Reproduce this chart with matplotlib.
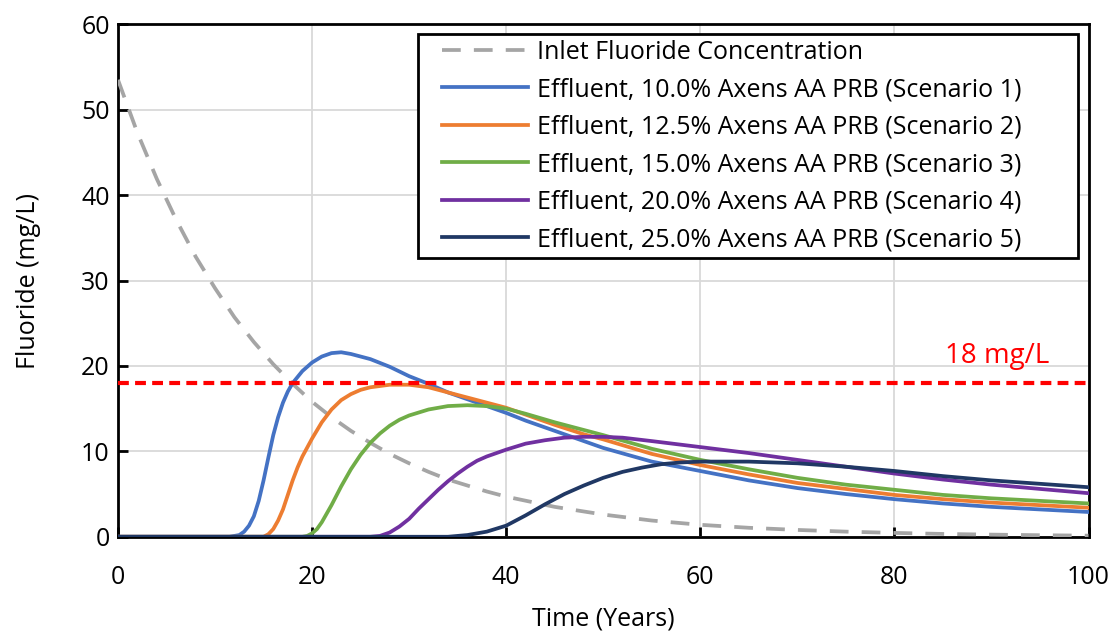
import matplotlib
matplotlib.use("Agg")
import matplotlib.pyplot as plt
from matplotlib.patches import Rectangle

plt.rcParams['font.family'] = ['Open Sans', 'DejaVu Sans']

# Inlet fluoride concentration
inlet_x = [0, 2, 4, 6, 8, 10, 12, 14, 16, 18, 20, 22, 24, 26, 28, 30, 32, 34, 36, 38, 40,
           45, 50, 55, 60, 65, 70, 75, 80, 85, 90, 95, 100]
inlet_y = [53.5, 47.3, 41.9, 37.1, 32.8, 29.1, 25.7, 22.8, 20.2, 17.9, 15.8, 14.0, 12.4, 11.0,
           9.7, 8.6, 7.6, 6.7, 6.0, 5.3, 4.7, 3.5, 2.6, 1.9, 1.4, 1.05, 0.8, 0.6, 0.45, 0.33,
           0.25, 0.18, 0.13]

s1_x = [0, 11.5, 12.5, 13, 13.5, 14, 14.5, 15, 15.5, 16, 16.5, 17, 17.5, 18, 19, 20, 21, 22,
        23, 24, 26, 28, 30, 32, 34, 36, 38, 40, 42, 45, 48, 50, 55, 60, 65, 70, 75, 80, 85,
        90, 95, 100]
s1_y = [0, 0, 0.2, 0.6, 1.3, 2.4, 4.2, 6.6, 9.3, 11.9, 14.0, 15.7, 17.0, 18.0, 19.4, 20.4,
        21.1, 21.5, 21.6, 21.4, 20.8, 19.9, 18.8, 17.9, 16.9, 16.1, 15.3, 14.5, 13.6, 12.4,
        11.2, 10.4, 8.8, 7.7, 6.6, 5.7, 5.0, 4.4, 3.9, 3.5, 3.2, 2.9]

s2_x = [0, 15, 15.5, 16, 16.5, 17, 17.5, 18, 18.5, 19, 20, 21, 22, 23, 24, 25, 26, 28, 30, 32,
        34, 36, 38, 40, 42, 45, 48, 50, 55, 60, 65, 70, 75, 80, 85, 90, 95, 100]
s2_y = [0, 0, 0.3, 0.9, 1.9, 3.2, 4.9, 6.6, 8.1, 9.4, 11.5, 13.4, 14.9, 16.0, 16.7, 17.2,
        17.5, 17.8, 17.8, 17.5, 16.9, 16.3, 15.7, 15.1, 14.3, 13.1, 12.0, 11.4, 9.7, 8.4, 7.3,
        6.3, 5.6, 4.9, 4.4, 4.0, 3.7, 3.4]

s3_x = [0, 19, 19.5, 20, 20.5, 21, 22, 23, 24, 25, 26, 27, 28, 29, 30, 32, 34, 36, 38, 40, 42,
        45, 48, 50, 55, 60, 65, 70, 75, 80, 85, 90, 95, 100]
s3_y = [0, 0, 0.1, 0.4, 0.9, 1.7, 3.7, 5.9, 7.9, 9.6, 11.0, 12.1, 13.0, 13.7, 14.2, 14.9,
        15.3, 15.4, 15.3, 15.0, 14.4, 13.4, 12.5, 11.9, 10.3, 9.0, 7.9, 6.9, 6.1, 5.5, 4.9,
        4.5, 4.2, 3.9]

s4_x = [0, 26, 27, 28, 29, 30, 31, 32, 33, 34, 35, 36, 37, 38, 40, 42, 44, 46, 48, 50, 52, 55,
        60, 65, 70, 75, 80, 85, 90, 95, 100]
s4_y = [0, 0, 0.1, 0.5, 1.2, 2.1, 3.3, 4.4, 5.5, 6.5, 7.4, 8.2, 8.9, 9.4, 10.2, 10.9, 11.3,
        11.6, 11.7, 11.7, 11.6, 11.2, 10.5, 9.8, 9.0, 8.2, 7.4, 6.7, 6.1, 5.6, 5.1]

s5_x = [0, 34, 36, 38, 40, 42, 44, 46, 48, 50, 52, 54, 56, 58, 60, 62, 65, 70, 75, 80, 85, 90,
        95, 100]
s5_y = [0, 0, 0.2, 0.6, 1.3, 2.5, 3.8, 5.0, 6.0, 6.9, 7.6, 8.1, 8.5, 8.7, 8.8, 8.8, 8.8, 8.6,
        8.2, 7.7, 7.1, 6.6, 6.2, 5.8]

labels = ["Inlet Fluoride Concentration",
          "Effluent, 10.0% Axens AA PRB (Scenario 1)",
          "Effluent, 12.5% Axens AA PRB (Scenario 2)",
          "Effluent, 15.0% Axens AA PRB (Scenario 3)",
          "Effluent, 20.0% Axens AA PRB (Scenario 4)",
          "Effluent, 25.0% Axens AA PRB (Scenario 5)"]
colors = ["#A5A5A5", "#4472C4", "#ED7D31", "#70AD47", "#7030A0", "#203864"]
limit_value = 18
limit_label = "18 mg/L"

fig = plt.figure(figsize=(11.13, 6.39), dpi=100)
ax = fig.add_axes([0.106, 0.16, 0.872, 0.802])

ax.plot(inlet_x, inlet_y, color=colors[0], lw=2.7, dashes=(5, 3.5), label=labels[0], zorder=3)
series = [(s1_x, s1_y), (s2_x, s2_y), (s3_x, s3_y), (s4_x, s4_y), (s5_x, s5_y)]
for i, (xs, ys) in enumerate(series):
    ax.plot(xs, ys, color=colors[i + 1], lw=2.7, label=labels[i + 1], zorder=4)

ax.axhline(limit_value, color="#FF0000", lw=3.0, dashes=(2.6, 1.5), zorder=5)
ax.text(90.6, 20.4, limit_label, color="#FF0000", fontsize=20, ha='center', va='baseline')

ax.set_xlim(0, 100)
ax.set_ylim(0, 60)
ax.set_xticks(range(0, 101, 20))
ax.set_yticks(range(0, 61, 10))
ax.grid(True, color="#D9D9D9", lw=1.3)
ax.set_axisbelow(True)
ax.tick_params(direction='in', length=7, width=2, labelsize=18, colors='black')
ax.tick_params(axis='x', pad=20)
ax.tick_params(axis='y', pad=6)
for sp in ax.spines.values():
    sp.set_color('black')
    sp.set_linewidth(2)

ax.set_xlabel("Time (Years)", fontsize=18, labelpad=12)
ax.set_ylabel("Fluoride (mg/L)", fontsize=18, labelpad=29)

# legend frame drawn as a box, legend entries placed inside it
frame = Rectangle((0.309, 0.544), 0.6797, 0.4365, transform=ax.transAxes,
                  facecolor='white', edgecolor='black', lw=2, zorder=6)
ax.add_patch(frame)
leg = ax.legend(loc='upper left', bbox_to_anchor=(0.3337, 0.970), borderaxespad=0,
                fontsize=18, frameon=False, borderpad=0,
                handlelength=3.45, handletextpad=0.36, labelspacing=0.5)
leg.set_zorder(7)

fig.savefig("out.png", dpi=100)
